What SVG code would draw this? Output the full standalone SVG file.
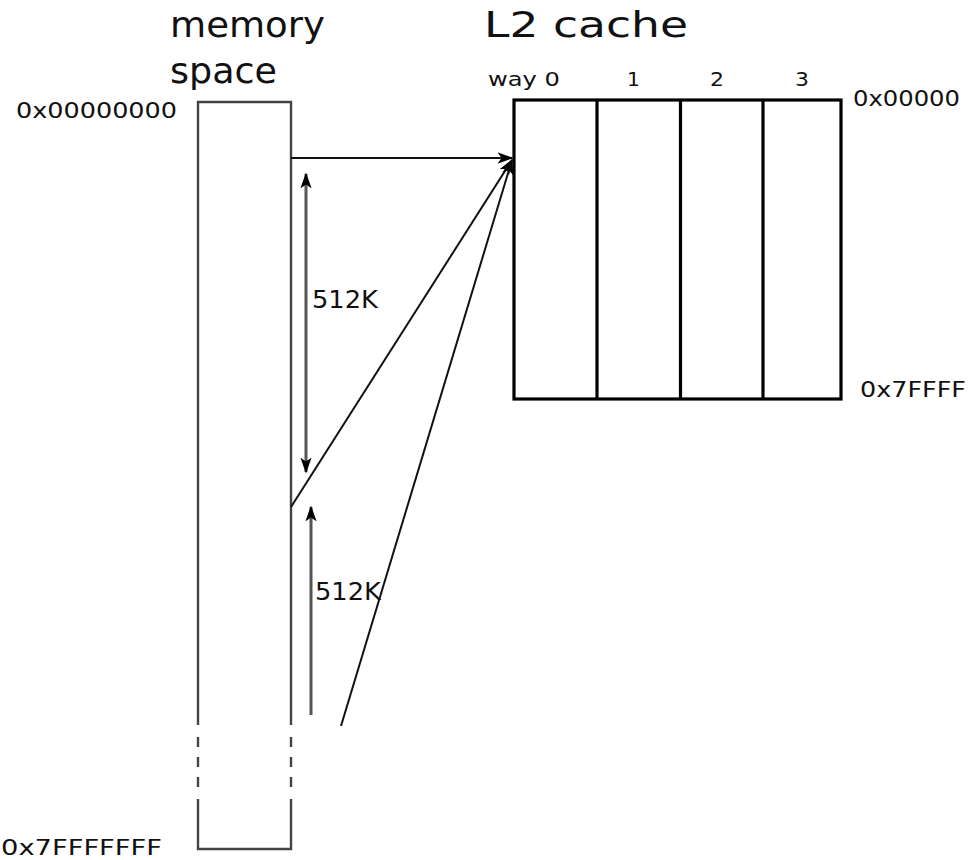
<svg xmlns="http://www.w3.org/2000/svg" width="968" height="860" viewBox="0 0 968 860">
  <defs>
    <marker id="arrowBig" viewBox="0 0 10 10" refX="9" refY="5" markerWidth="16" markerHeight="16" markerUnits="userSpaceOnUse" orient="auto-start-reverse">
      <path d="M0,1.5 L10,5 L0,8.5 L2.5,5 Z" fill="#000"/>
    </marker>
  </defs>
  <style>
    text { font-family: "DejaVu Sans", "Liberation Sans", sans-serif; fill: #111; }
    .title { font-size: 36px; }
    .addr { font-size: 21px; }
    .way { font-size: 20px; }
    .size { font-size: 24px; }
    .mem { fill: none; stroke: #444; stroke-width: 2.4; }
    .cache { fill: none; stroke: #000; stroke-width: 3.2; }
    .conn { fill: none; stroke: #111; stroke-width: 2; }
    .dim { fill: none; stroke: #555; stroke-width: 3; }
  </style>

  <rect width="968" height="860" fill="#fff"/>

  <!-- memory space column -->
  <g id="memory">
    <text class="title" x="170" y="37" textLength="155" lengthAdjust="spacingAndGlyphs">memory</text>
    <text class="title" x="170" y="83" textLength="107" lengthAdjust="spacingAndGlyphs">space</text>
    <text class="addr" x="16" y="118" textLength="161" lengthAdjust="spacingAndGlyphs">0x00000000</text>
    <text class="addr" x="1" y="855" textLength="161" lengthAdjust="spacingAndGlyphs">0x7FFFFFFF</text>
    <path class="mem" d="M198,725 V102 H291 V725"/>
    <path class="mem" d="M198,737 V790 M291,737 V790" stroke-dasharray="10,10"/>
    <path class="mem" d="M198,799 V849 H291 V799"/>
  </g>

  <!-- four-way L2 cache -->
  <g id="cache">
    <text class="title" x="484" y="37" textLength="204" lengthAdjust="spacingAndGlyphs">L2 cache</text>
    <text class="way" x="488" y="86" textLength="72" lengthAdjust="spacingAndGlyphs">way 0</text>
    <text class="way" x="627" y="86" textLength="13" lengthAdjust="spacingAndGlyphs">1</text>
    <text class="way" x="710" y="86" textLength="14" lengthAdjust="spacingAndGlyphs">2</text>
    <text class="way" x="795" y="86" textLength="14" lengthAdjust="spacingAndGlyphs">3</text>
    <text class="addr" x="853" y="106" textLength="107" lengthAdjust="spacingAndGlyphs">0x00000</text>
    <text class="addr" x="860" y="397" textLength="106" lengthAdjust="spacingAndGlyphs">0x7FFFF</text>
    <rect class="cache" x="514" y="100" width="327" height="299"/>
    <line class="cache" x1="597" y1="100" x2="597" y2="399"/>
    <line class="cache" x1="680.5" y1="100" x2="680.5" y2="399"/>
    <line class="cache" x1="763" y1="100" x2="763" y2="399"/>
  </g>

  <!-- mapping connectors -->
  <g id="connectors">
    <line class="conn" x1="291" y1="158" x2="512" y2="158" marker-end="url(#arrowBig)"/>
    <line class="conn" x1="291" y1="507" x2="512" y2="160" marker-end="url(#arrowBig)"/>
    <line class="conn" x1="341" y1="726" x2="512" y2="160" marker-end="url(#arrowBig)"/>
    <line class="dim" x1="306" y1="174" x2="306" y2="472" marker-start="url(#arrowBig)" marker-end="url(#arrowBig)"/>
    <line class="dim" x1="311" y1="715" x2="311" y2="507" marker-end="url(#arrowBig)"/>
  </g>

  <g id="sizes">
    <text class="size" x="312" y="308" textLength="66" lengthAdjust="spacingAndGlyphs">512K</text>
    <text class="size" x="315" y="600" textLength="66" lengthAdjust="spacingAndGlyphs">512K</text>
  </g>
</svg>
